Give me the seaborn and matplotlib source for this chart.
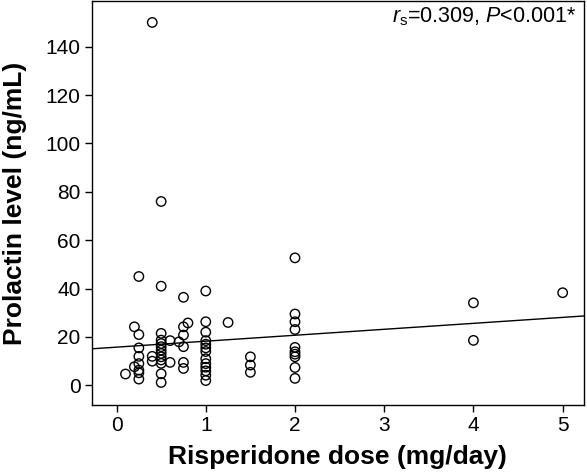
import matplotlib
matplotlib.use("Agg")
import matplotlib.pyplot as plt
import seaborn as sns
import numpy as np
import pandas as pd

dose_groups = [0.1, 0.2, 0.25, 0.4, 0.5, 0.6, 0.7, 0.75, 0.8, 1.0, 1.25, 1.5, 2.0, 4.0, 5.0]
prolactin_groups = [
    [4.7],
    [24.2, 7.7],
    [45.0, 21.0, 15.5, 12.0, 9.0, 6.3, 5.2, 2.6],
    [150.0, 12.0, 10.0],
    [76.0, 41.0, 21.5, 18.7, 17.3, 16.0, 14.6, 13.2, 11.8, 10.5, 9.1, 4.8, 1.2],
    [18.5, 9.5],
    [18.0],
    [36.4, 24.2, 20.8, 16.0, 9.5, 7.0],
    [25.8],
    [39.0, 26.3, 22.0, 18.5, 17.0, 15.5, 14.0, 11.0, 9.0, 7.5, 6.0, 4.2, 2.0],
    [26.0],
    [11.8, 8.4, 5.4],
    [52.7, 29.5, 26.3, 23.1, 15.7, 13.9, 12.9, 11.8, 7.4, 2.9],
    [34.1, 18.6],
    [38.3],
]

# fitted trend line
fit_intercept = 15.8
fit_slope = 2.46

x_ticks = [0, 1, 2, 3, 4, 5]
y_ticks = [0, 20, 40, 60, 80, 100, 120, 140]

dose = []
prl = []
for d, vals in zip(dose_groups, prolactin_groups):
    for v in vals:
        dose.append(d)
        prl.append(v)
df = pd.DataFrame({"dose": dose, "prolactin": prl})

sns.set_theme(style="white")
plt.rcParams["font.family"] = ["Liberation Sans", "DejaVu Sans"]
plt.rcParams["mathtext.fontset"] = "custom"
plt.rcParams["mathtext.rm"] = "Liberation Sans"
plt.rcParams["mathtext.it"] = "Liberation Sans:italic"

fig = plt.figure(figsize=(5.87, 4.74), dpi=100)
ax = fig.add_axes([0.156, 0.1456, 0.839, 0.852])

sns.scatterplot(data=df, x="dose", y="prolactin", ax=ax, s=46,
                facecolor="none", edgecolor="black", linewidth=1.0)
ax.axline((0, fit_intercept), slope=fit_slope, color="black", linewidth=1.0)

ax.set_xlim(-0.28, 5.24)
ax.set_ylim(-8.1, 158.8)
ax.set_xticks(x_ticks)
ax.set_yticks(y_ticks)
ax.tick_params(axis="both", which="both", bottom=True, left=True, top=False, right=False,
               direction="out", length=5, width=1, color="black", labelsize=15, labelcolor="black",
               pad=3)
for s in ax.spines.values():
    s.set_visible(True)
    s.set_color("black")
    s.set_linewidth(1.0)
ax.set_xlabel("Risperidone dose (mg/day)", fontsize=19, fontweight="bold", color="black", labelpad=7)
ax.set_ylabel("Prolactin level (ng/mL)", fontsize=19, fontweight="bold", color="black", labelpad=13)
ax.grid(False)

ax.text(0.985, 0.962, r"$r_{\mathrm{s}}$=0.309, $P$<0.001*", transform=ax.transAxes,
        ha="right", va="center", fontsize=15.5, color="black")

fig.savefig("out.png", dpi=100)
